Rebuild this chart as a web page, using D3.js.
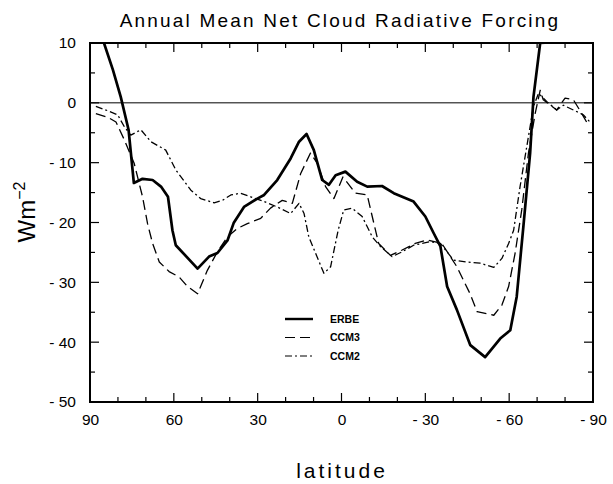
<!DOCTYPE html>
<html>
<head>
<meta charset="utf-8">
<script src="https://cdn.jsdelivr.net/npm/d3@7"></script>
<style>
  body { margin: 0; background: #fff; }
  svg { display: block; font-family: "Liberation Sans", Arial, sans-serif; }
</style>
</head>
<body>
<div class="visHolder"></div>
<script>
// latitude / value readings for each series
const erbeLat = [87, 85, 81.8, 79, 76.2, 74.3, 71.2, 67.6, 64.6, 62.1, 60.5, 59.3, 51.5, 47.4, 44.4, 40.8, 38.6, 34.9, 30.1, 27.7, 23, 18.2, 15.2, 12.5, 9.9, 6.9, 4.5, 2.1, -1.4, -5.6, -9.2, -14.5, -18.7, -25.8, -30, -33, -35.4, -37.8, -41.3, -46.1, -51.4, -56.8, -60.4, -62.7, -65.1, -67.5, -68.7, -71.1, -78, -80];
const erbeVal = [14, 10, 5.5, 1, -4.5, -13.4, -12.7, -12.9, -14, -15.7, -21.3, -23.8, -27.7, -25.7, -25.1, -23, -20.1, -17.4, -16, -15.4, -12.9, -9.3, -6.5, -5.2, -7.9, -12.9, -13.7, -12.1, -11.5, -13.2, -14, -13.9, -15.1, -16.5, -19, -21.8, -24, -30.7, -34.6, -40.5, -42.5, -39.4, -38, -32.4, -20.6, -8.4, 1, 10, 10.2, 13];

const ccm3Lat = [87.9, 83.7, 80.7, 77.7, 74.2, 71.2, 69.4, 67.6, 65.2, 61.7, 58.1, 55.1, 51.5, 48, 44.4, 40.8, 37.3, 33.7, 28.9, 25.4, 21.2, 17.6, 14.6, 11.1, 8.7, 5.7, 2.7, -0.5, -5, -9.2, -11, -13.3, -17.5, -21.7, -26.4, -30.6, -35.9, -41.3, -46, -48.5, -54.5, -57.4, -59.8, -62.1, -64.5, -66.9, -69.3, -71.1, -72.2, -77, -80, -83, -86, -87.7];
const ccm3Val = [-1.8, -2.4, -3.2, -6.2, -10.1, -15.7, -20.2, -23.5, -26.6, -28.2, -29.1, -30.7, -31.9, -28, -24.9, -22.4, -21, -20.2, -19.3, -17.6, -16.3, -16.8, -11.8, -8.4, -10.1, -14, -16, -12.4, -15.1, -15.4, -19, -23.5, -25.5, -24.6, -23.5, -22.9, -23.5, -27.4, -31.9, -34.9, -35.5, -33.8, -30.7, -25.2, -17.9, -8.4, -1.8, 2.1, 0.5, -1.2, 0.8, 0.5, -1.8, -3.2];

const ccm2Lat = [87.9, 84.3, 80.1, 77.7, 75.4, 71.8, 68.2, 62.9, 59.3, 53.9, 50.4, 45.6, 42.6, 39.6, 36.1, 32.5, 27.7, 23, 18.2, 15.2, 13.4, 11.7, 6.3, 3.9, 1.2, -0.8, -3.8, -7.4, -11, -13.9, -18.1, -21.7, -25.8, -31.8, -35.4, -40.1, -44.9, -49.6, -54.5, -57.4, -59.8, -61.6, -63.9, -66.3, -68.7, -70.5, -72.2, -73.5, -77, -79.4, -83, -86.5, -88.9];
const ccm2Val = [-0.6, -1.2, -2, -4, -5.4, -4.5, -6.5, -7.9, -11.2, -14.6, -16, -16.7, -16.3, -15.4, -15.1, -15.7, -16.5, -17.4, -18.5, -16.8, -18.5, -22.4, -28.5, -27.4, -21.3, -17.9, -17.6, -19, -22.4, -24, -25.7, -24.9, -23.8, -23.2, -23.5, -26.3, -26.6, -26.8, -27.5, -26, -23.5, -21.3, -14, -7.3, -0.6, 1.6, 0.8, 0.2, -1.2, -0.4, -1.2, -2, -3.2];

const seriesNames = ["ERBE", "CCM3", "CCM2"];
const xTickLabels = [90, 60, 30, 0, -30, -60, -90];
const yTickLabels = [10, 0, -10, -20, -30, -40, -50];

const width = 613;
const height = 484;
const plot = { left: 90, right: 593, top: 43, bottom: 402 };

let svg = d3
    .select(".visHolder")
    .append("svg")
    .attr("width", width)
    .attr("height", height);

const xScale = d3.scaleLinear().domain([90, -90]).range([plot.left, plot.right]);
const yScale = d3.scaleLinear().domain([10, -50]).range([plot.top, plot.bottom]);

svg.append("defs")
    .append("clipPath")
    .attr("id", "clip")
    .append("rect")
    .attr("x", plot.left)
    .attr("y", plot.top)
    .attr("width", plot.right - plot.left)
    .attr("height", plot.bottom - plot.top);

// tick marks (inside, all four sides)
const minorX = d3.range(-80, 90, 10);
const minorY = d3.range(-45, 10, 5);
const tickLen = (major) => (major ? 9 : 5);

const xAxisBottom = d3.axisBottom(xScale).tickValues(xTickLabels).tickFormat((d) => (d < 0 ? "- " + Math.abs(d) : d)).tickSize(0).tickPadding(12);
svg.append("g")
    .attr("transform", `translate(0,${plot.bottom})`)
    .call(xAxisBottom)
    .call((g) => g.select(".domain").remove())
    .selectAll("text")
    .attr("font-size", 15.5)
    .attr("font-family", "Liberation Sans, Arial, sans-serif")
    .attr("fill", "#000");

const yAxisLeft = d3.axisLeft(yScale).tickValues(yTickLabels).tickFormat((d) => (d < 0 ? "- " + Math.abs(d) : d)).tickSize(0).tickPadding(14);
svg.append("g")
    .attr("transform", `translate(${plot.left},0)`)
    .call(yAxisLeft)
    .call((g) => g.select(".domain").remove())
    .selectAll("text")
    .attr("font-size", 15.5)
    .attr("font-family", "Liberation Sans, Arial, sans-serif")
    .attr("fill", "#000");

const ticks = svg.append("g").attr("stroke", "#000").attr("stroke-width", 1.2);
minorX.forEach((v) => {
    const major = v % 30 === 0;
    ticks.append("line").attr("x1", xScale(v)).attr("x2", xScale(v)).attr("y1", plot.bottom).attr("y2", plot.bottom - tickLen(major));
    ticks.append("line").attr("x1", xScale(v)).attr("x2", xScale(v)).attr("y1", plot.top).attr("y2", plot.top + tickLen(major));
});
minorY.forEach((v) => {
    const major = v % 10 === 0;
    ticks.append("line").attr("y1", yScale(v)).attr("y2", yScale(v)).attr("x1", plot.left).attr("x2", plot.left + tickLen(major));
    ticks.append("line").attr("y1", yScale(v)).attr("y2", yScale(v)).attr("x1", plot.right).attr("x2", plot.right - tickLen(major));
});

// zero line
svg.append("line")
    .attr("x1", plot.left)
    .attr("x2", plot.right)
    .attr("y1", yScale(0))
    .attr("y2", yScale(0))
    .attr("stroke", "#000")
    .attr("stroke-width", 1);

const line = d3
    .line()
    .x((d) => xScale(d[0]))
    .y((d) => yScale(d[1]));

const styles = [
    { width: 2.7, dash: null },
    { width: 1.3, dash: "10,5" },
    { width: 1.3, dash: "7,3,2,3" },
];
const series = [
    d3.zip(erbeLat, erbeVal),
    d3.zip(ccm3Lat, ccm3Val),
    d3.zip(ccm2Lat, ccm2Val),
];

const lines = svg.append("g").attr("clip-path", "url(#clip)");
series.forEach((s, i) => {
    lines.append("path")
        .datum(s)
        .attr("d", line)
        .attr("fill", "none")
        .attr("stroke", "#000")
        .attr("stroke-width", styles[i].width)
        .attr("stroke-linejoin", "round")
        .attr("stroke-dasharray", styles[i].dash);
});

// frame
svg.append("rect")
    .attr("x", plot.left)
    .attr("y", plot.top)
    .attr("width", plot.right - plot.left)
    .attr("height", plot.bottom - plot.top)
    .attr("fill", "none")
    .attr("stroke", "#000")
    .attr("stroke-width", 2);

// legend
const legend = svg.append("g").attr("transform", "translate(285,319)");
seriesNames.forEach((name, i) => {
    const row = legend.append("g").attr("transform", `translate(0,${i * 18.5})`);
    row.append("line")
        .attr("x1", 0)
        .attr("x2", 28)
        .attr("stroke", "#000")
        .attr("stroke-width", styles[i].width * 0.9)
        .attr("stroke-dasharray", styles[i].dash);
    row.append("text")
        .attr("x", 45)
        .attr("dy", "0.35em")
        .attr("font-size", 10.5)
        .attr("font-weight", "bold")
        .text(name);
});

// title and axis labels
svg.append("text")
    .attr("x", 340)
    .attr("y", 27)
    .attr("text-anchor", "middle")
    .attr("font-size", 19)
    .attr("letter-spacing", 2.2)
    .text("Annual Mean Net Cloud Radiative Forcing");

svg.append("text")
    .attr("x", 342)
    .attr("y", 478)
    .attr("text-anchor", "middle")
    .attr("font-size", 21)
    .attr("letter-spacing", 3)
    .text("latitude");

const yLabel = svg.append("text")
    .attr("transform", "translate(35,212) rotate(-90)")
    .attr("text-anchor", "middle")
    .attr("font-size", 24);
yLabel.append("tspan").text("Wm");
yLabel.append("tspan").attr("dy", -10).attr("font-size", 16).text("−2");
</script>
</body>
</html>
